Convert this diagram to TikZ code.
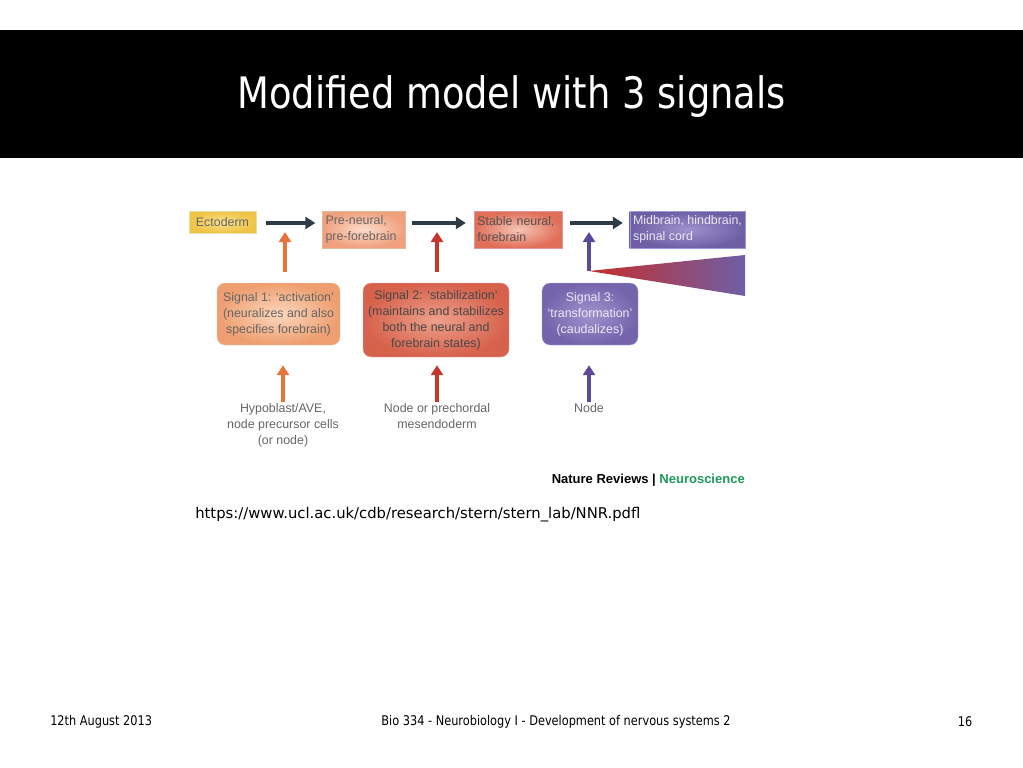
\documentclass[tikz,border=0pt]{standalone}
\usepackage{fontspec}
\setmainfont{Liberation Sans}
\newfontfamily\titlefont{DejaVu Sans}[FakeStretch=0.85]
\newfontfamily\urlfont{DejaVu Sans}
\newfontfamily\footfont{DejaVu Sans}[FakeStretch=0.85]
\usetikzlibrary{arrows.meta}
\definecolor{darkarr}{HTML}{2E3B45}
\definecolor{orarr}{HTML}{E8733A}
\definecolor{redarr}{HTML}{C8352E}
\definecolor{purarr}{HTML}{5B4A99}
\definecolor{txtgray}{HTML}{666666}
\definecolor{purtxt}{HTML}{ECE8F6}
\definecolor{nrgreen}{HTML}{1E9A5A}
\definecolor{wedgered}{HTML}{C62D2A}
\definecolor{wedgepur}{HTML}{6E5FA5}
\tikzset{
  chainbox/.style={draw=#1!70!black!40, line width=0.3pt, shade, shading=radial, minimum height=27.75pt, inner sep=2.5pt, align=left, font=\fontsize{9.3}{12}\selectfont},
  sigbox/.style={rounded corners=6pt, draw=#1!70!black!30, line width=0.3pt, shade, shading=radial, inner sep=2pt, align=center, font=\fontsize{9.3}{12}\selectfont},
  srclabel/.style={align=center, text=txtgray, font=\fontsize{9.3}{12}\selectfont, inner sep=1pt, anchor=north},
  bigarrow/.style={line width=2.8pt, color=#1, -{Triangle[width=9pt,length=7.5pt]}},
}
\begin{document}
\begin{tikzpicture}[x=0.75pt,y=-0.75pt]
\useasboundingbox (0,0) rectangle (1023,767);
\fill[white] (0,0) rectangle (1023,767);
\fill[black] (0,30) rectangle (1023,158);
\node[text=white, font=\titlefont\fontsize{32.5}{36}\selectfont] (title) at (511.5,97) {Modified model with 3 signals};

% chain boxes
\node[chainbox=yellow, inner color={rgb,255:red,250;green,226;blue,140}, outer color={rgb,255:red,240;green,195;blue,70}, minimum width=50.25pt, minimum height=16.5pt, text=txtgray] (ecto) at (222.5,222) {Ectoderm};
\node[chainbox=orange, inner color={rgb,255:red,252;green,220;blue,204}, outer color={rgb,255:red,240;green,160;blue,125}, text width=57pt, text=txtgray] (pre) at (363.5,229.5) {Pre-neural,\\pre-forebrain};
\node[chainbox=red, inner color={rgb,255:red,246;green,196;blue,182}, outer color={rgb,255:red,224;green,110;blue,88}, text width=61pt, text=txtgray!80!black] (stable) at (518,229.5) {Stable neural,\\forebrain};
\node[chainbox=blue, inner color={rgb,255:red,158;green,146;blue,204}, outer color={rgb,255:red,110;green,95;blue,165}, minimum width=86.25pt, text=purtxt] (mid) at (687.5,229.5) {Midbrain, hindbrain,\\spinal cord};

% horizontal arrows
\draw[bigarrow=darkarr, shorten <=7pt, shorten >=5pt] ([yshift=-0.75pt]ecto.east) -- ([yshift=-0.75pt]ecto.east -| pre.west);
\draw[bigarrow=darkarr, shorten <=5pt, shorten >=6pt] ([yshift=4.9pt]pre.east) -- ([yshift=4.9pt]stable.west);
\draw[bigarrow=darkarr, shorten <=6pt, shorten >=5pt] ([yshift=4.9pt]stable.east) -- ([yshift=4.9pt]mid.west);

% signal boxes
\node[sigbox=orange, inner color={rgb,255:red,252;green,216;blue,190}, outer color={rgb,255:red,238;green,158;blue,112}, minimum width=92.25pt, minimum height=46.5pt, text=txtgray] (s1) at (278.5,314) {Signal 1: `activation'\\(neuralizes and also\\specifies forebrain)};
\node[sigbox=red, inner color={rgb,255:red,238;green,160;blue,140}, outer color={rgb,255:red,214;green,98;blue,76}, minimum width=109.5pt, minimum height=55.5pt, text=txtgray!70!black] (s2) at (436,320) {Signal 2: `stabilization'\\(maintains and stabilizes\\both the neural and\\forebrain states)};
\node[sigbox=blue, inner color={rgb,255:red,160;green,148;blue,205}, outer color={rgb,255:red,115;green,100;blue,172}, minimum width=72pt, minimum height=46.5pt, text=purtxt] (s3) at (590,314) {Signal 3:\\`transformation'\\(caudalizes)};

% wedge
\shade[left color=wedgered, middle color=wedgepur!85!wedgered, right color=wedgepur] (589,271) -- (745,255) -- (745,296) -- cycle;
\coordinate (tip) at (589,271);

% up arrows into chain
\coordinate (a1) at (285,232);
\coordinate (a2) at (437,232);
\coordinate (a3) at (589,232);
\draw[bigarrow=orarr, shorten <=8.25pt] (s1.north -| a1) -- (a1);
\draw[bigarrow=redarr, shorten <=8.25pt] (s2.north -| a2) -- (a2);
\draw[bigarrow=purarr] (tip) -- (a3);

% sources
\node[srclabel] (src1) at (283,402) {Hypoblast/AVE,\\node precursor cells\\(or node)};
\node[srclabel] (src2) at (437,402) {Node or prechordal\\mesendoderm};
\node[srclabel] (src3) at (589,402) {Node};
\draw[bigarrow=orarr, shorten >=15pt] (src1.north) -- (src1.north |- s1.south);
\draw[bigarrow=redarr, shorten >=6pt] (src2.north) -- (src2.north |- s2.south);
\draw[bigarrow=purarr, shorten >=15pt] (src3.north) -- (src3.north |- s3.south);

\node[anchor=east, font=\bfseries\fontsize{9.75}{11}\selectfont, inner sep=0pt] (nr) at (745,480) {Nature Reviews | \textcolor{nrgreen}{Neuroscience}};

\node[anchor=west, font=\urlfont\fontsize{11.1}{13}\selectfont, inner sep=0pt] (url) at (195,515) {https://www.ucl.ac.uk/cdb/research/stern/stern\_lab/NNR.pdfl};

\node[anchor=west, font=\footfont\fontsize{10}{11}\selectfont, inner sep=0pt] (f1) at (50,722) {12th August 2013};
\node[font=\footfont\fontsize{10}{11}\selectfont, inner sep=0pt] (f2) at (556,722) {Bio 334 - Neurobiology I - Development of nervous systems 2};
\node[font=\footfont\fontsize{10}{11}\selectfont, inner sep=0pt] (f3) at (965,722) {16};
\end{tikzpicture}
\end{document}
